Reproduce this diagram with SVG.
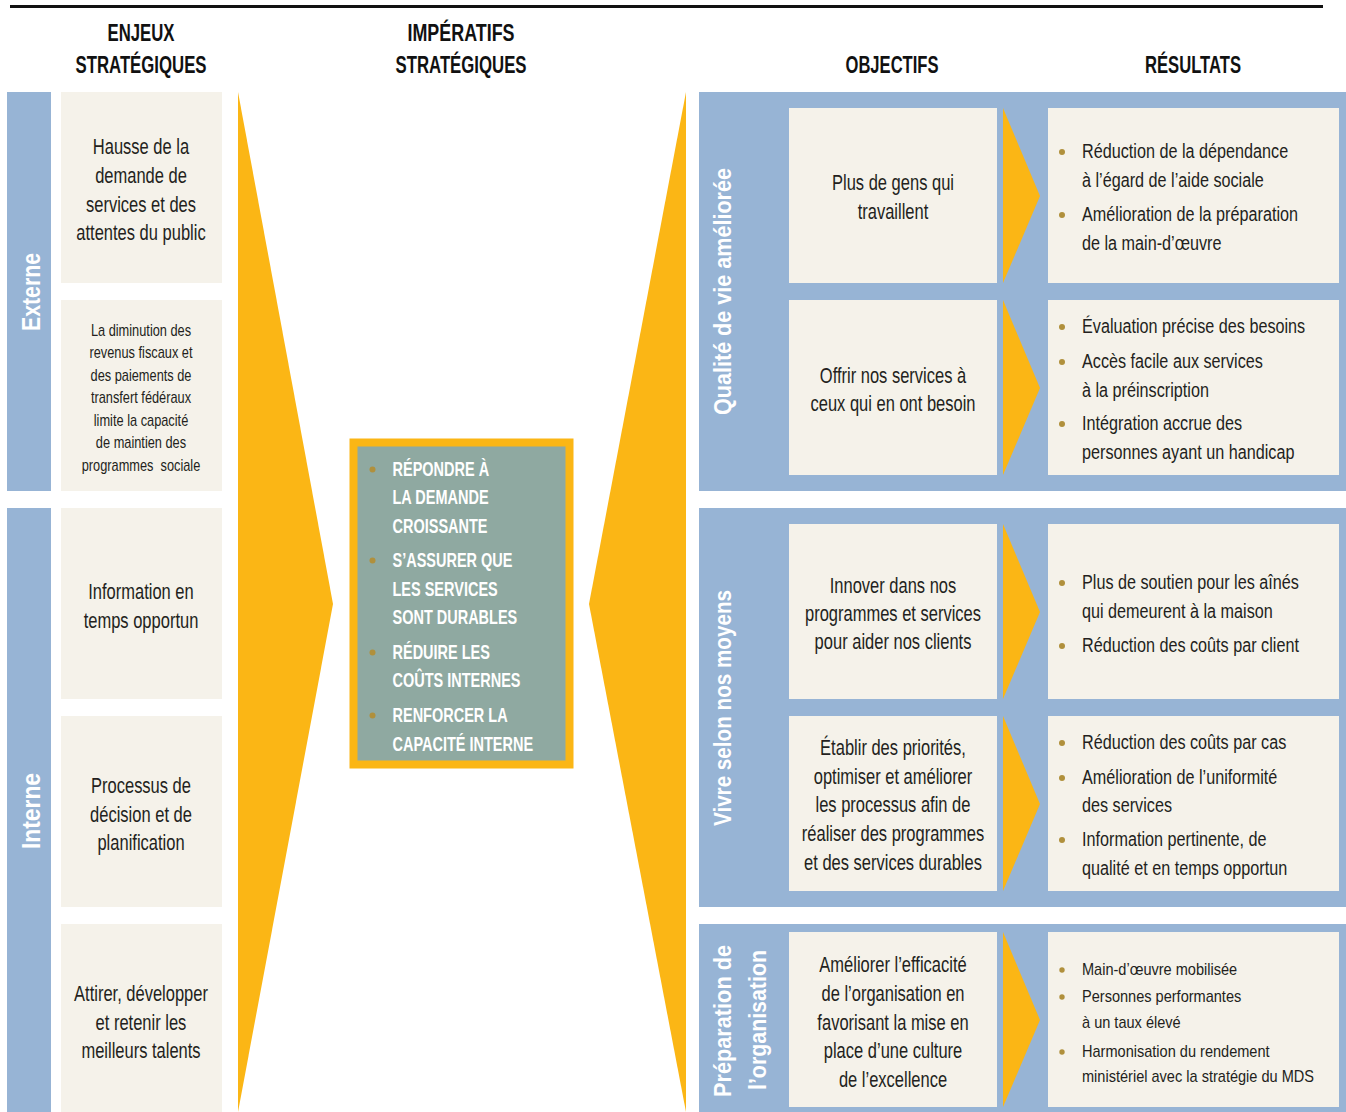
<svg xmlns="http://www.w3.org/2000/svg" width="1346" height="1112" viewBox="0 0 1346 1112">
<defs>
<style>
.bar{fill:#97b4d5}
.box{fill:#f5f2ea}
.arrow{fill:#fbb615}
.t{font-family:"Liberation Sans",Arial,sans-serif;fill:#231f20}
.c{text-anchor:middle}
.s22{font-size:22px}
.s20{font-size:20px}
.s16{font-size:16px}
.hdr{font-family:"Liberation Sans",Arial,sans-serif;font-size:23px;font-weight:bold;fill:#111;text-anchor:middle}
.lbl{font-family:"Liberation Sans",Arial,sans-serif;font-weight:bold;fill:#fff;text-anchor:middle}
.ctr{font-family:"Liberation Sans",Arial,sans-serif;font-size:20px;font-weight:bold;fill:#fff}
.bul{fill:#b0903c}
</style>
</defs>
<rect width="1346" height="1112" fill="#fff"/>
<line x1="10" y1="6.5" x2="1323" y2="6.5" stroke="#111" stroke-width="3"/>

<g id="headers">
<text class="hdr" x="141" y="41" textLength="67" lengthAdjust="spacingAndGlyphs">ENJEUX</text>
<text class="hdr" x="141" y="73" textLength="131" lengthAdjust="spacingAndGlyphs">STRATÉGIQUES</text>
<text class="hdr" x="461" y="41" textLength="107" lengthAdjust="spacingAndGlyphs">IMPÉRATIFS</text>
<text class="hdr" x="461" y="73" textLength="131" lengthAdjust="spacingAndGlyphs">STRATÉGIQUES</text>
<text class="hdr" x="892" y="73" textLength="93" lengthAdjust="spacingAndGlyphs">OBJECTIFS</text>
<text class="hdr" x="1193" y="73" textLength="96" lengthAdjust="spacingAndGlyphs">RÉSULTATS</text>
</g>

<g id="connectors">
<polygon class="arrow" points="238,92 333,604 238,1112"/>
<polygon class="arrow" points="686,92 589,604 686,1112"/>
</g>

<g id="externe">
<rect class="bar" x="7" y="92" width="44" height="399"/>
<text class="lbl" font-size="26" transform="translate(40 292) rotate(-90)" textLength="78" lengthAdjust="spacingAndGlyphs">Externe</text>
</g>
<g id="interne">
<rect class="bar" x="7" y="508" width="44" height="604"/>
<text class="lbl" font-size="26" transform="translate(40 811) rotate(-90)" textLength="76" lengthAdjust="spacingAndGlyphs">Interne</text>
</g>

<g id="enjeu1">
<rect class="box" x="61" y="92" width="161" height="191"/>
<g transform="translate(141 0) scale(0.75 1)"><text class="t c s22">
<tspan x="0" y="154">Hausse de la</tspan><tspan x="0" y="183">demande de</tspan><tspan x="0" y="212">services et des</tspan><tspan x="0" y="240">attentes du public</tspan></text></g>
</g>
<g id="enjeu2">
<rect class="box" x="61" y="300" width="161" height="191"/>
<g transform="translate(141 0) scale(0.8 1)"><text class="t c s16">
<tspan x="0" y="336">La diminution des</tspan><tspan x="0" y="358.5">revenus fiscaux et</tspan><tspan x="0" y="381">des paiements de</tspan><tspan x="0" y="403.5">transfert fédéraux</tspan><tspan x="0" y="426">limite la capacité</tspan><tspan x="0" y="448.5">de maintien des</tspan><tspan x="0" y="471">programmes&#160; sociale</tspan></text></g>
</g>
<g id="enjeu3">
<rect class="box" x="61" y="508" width="161" height="191"/>
<g transform="translate(141 0) scale(0.75 1)"><text class="t c s22">
<tspan x="0" y="599">Information en</tspan><tspan x="0" y="628">temps opportun</tspan></text></g>
</g>
<g id="enjeu4">
<rect class="box" x="61" y="716" width="161" height="191"/>
<g transform="translate(141 0) scale(0.75 1)"><text class="t c s22">
<tspan x="0" y="793">Processus de</tspan><tspan x="0" y="822">décision et de</tspan><tspan x="0" y="850">planification</tspan></text></g>
</g>
<g id="enjeu5">
<rect class="box" x="61" y="924" width="161" height="188"/>
<g transform="translate(141 0) scale(0.75 1)"><text class="t c s22">
<tspan x="0" y="1001">Attirer, développer</tspan><tspan x="0" y="1030">et retenir les</tspan><tspan x="0" y="1058">meilleurs talents</tspan></text></g>
</g>

<g id="imperatifs">
<rect x="353.5" y="442.5" width="216" height="322" fill="#8fa9a1" stroke="#fbb615" stroke-width="8"/>
<circle class="bul" cx="372.5" cy="469.5" r="3"/>
<circle class="bul" cx="372.5" cy="560.5" r="3"/>
<circle class="bul" cx="372.5" cy="652.5" r="3"/>
<circle class="bul" cx="372.5" cy="715.5" r="3"/>
<g transform="translate(392.5 0) scale(0.725 1)"><text class="ctr">
<tspan x="0" y="476">RÉPONDRE À</tspan><tspan x="0" y="504.5">LA DEMANDE</tspan><tspan x="0" y="533">CROISSANTE</tspan><tspan x="0" y="567">S’ASSURER QUE</tspan><tspan x="0" y="596">LES SERVICES</tspan><tspan x="0" y="624.5">SONT DURABLES</tspan><tspan x="0" y="659">RÉDUIRE LES</tspan><tspan x="0" y="687.5">COÛTS INTERNES</tspan><tspan x="0" y="722">RENFORCER LA</tspan><tspan x="0" y="751">CAPACITÉ INTERNE</tspan></text></g>
</g>

<g id="qualite">
<rect class="bar" x="699" y="92" width="647" height="399"/>
<text class="lbl" font-size="24" transform="translate(731 291.5) rotate(-90)" textLength="247" lengthAdjust="spacingAndGlyphs">Qualité de vie améliorée</text>
</g>
<g id="moyens">
<rect class="bar" x="699" y="508" width="647" height="399"/>
<text class="lbl" font-size="24" transform="translate(731 708) rotate(-90)" textLength="236" lengthAdjust="spacingAndGlyphs">Vivre selon nos moyens</text>
</g>
<g id="preparation">
<rect class="bar" x="699" y="924" width="647" height="188"/>
<text class="lbl" font-size="24" transform="translate(731 1021) rotate(-90)" textLength="152" lengthAdjust="spacingAndGlyphs">Préparation de</text>
<text class="lbl" font-size="24" transform="translate(766 1020) rotate(-90)" textLength="140" lengthAdjust="spacingAndGlyphs">l’organisation</text>
</g>

<g id="arrows">
<polygon class="arrow" points="1003,108 1040,196 1003,283"/>
<polygon class="arrow" points="1003,300 1040,388 1003,475"/>
<polygon class="arrow" points="1003,524 1040,612 1003,699"/>
<polygon class="arrow" points="1003,716 1040,804 1003,891"/>
<polygon class="arrow" points="1003,932 1040,1020 1003,1107"/>
</g>

<g id="objectif1">
<rect class="box" x="789" y="108" width="208" height="175"/>
<g transform="translate(893 0) scale(0.75 1)"><text class="t c s22">
<tspan x="0" y="190">Plus de gens qui</tspan><tspan x="0" y="219">travaillent</tspan></text></g>
</g>
<g id="objectif2">
<rect class="box" x="789" y="300" width="208" height="175"/>
<g transform="translate(893 0) scale(0.75 1)"><text class="t c s22">
<tspan x="0" y="383">Offrir nos services à</tspan><tspan x="0" y="411">ceux qui en ont besoin</tspan></text></g>
</g>
<g id="objectif3">
<rect class="box" x="789" y="524" width="208" height="175"/>
<g transform="translate(893 0) scale(0.75 1)"><text class="t c s22">
<tspan x="0" y="593">Innover dans nos</tspan><tspan x="0" y="621">programmes et services</tspan><tspan x="0" y="649.5">pour aider nos clients</tspan></text></g>
</g>
<g id="objectif4">
<rect class="box" x="789" y="716" width="208" height="175"/>
<g transform="translate(893 0) scale(0.75 1)"><text class="t c s22">
<tspan x="0" y="755">Établir des priorités,</tspan><tspan x="0" y="784">optimiser et améliorer</tspan><tspan x="0" y="812.5">les processus afin de</tspan><tspan x="0" y="841">réaliser des programmes</tspan><tspan x="0" y="870">et des services durables</tspan></text></g>
</g>
<g id="objectif5">
<rect class="box" x="789" y="932" width="208" height="175"/>
<g transform="translate(893 0) scale(0.75 1)"><text class="t c s22">
<tspan x="0" y="972">Améliorer l’efficacité</tspan><tspan x="0" y="1001">de l’organisation en</tspan><tspan x="0" y="1030">favorisant la mise en</tspan><tspan x="0" y="1058">place d’une culture</tspan><tspan x="0" y="1087">de l’excellence</tspan></text></g>
</g>

<g id="resultat1">
<rect class="box" x="1048" y="108" width="291" height="175"/>
<circle class="bul" cx="1062" cy="152" r="3"/>
<circle class="bul" cx="1062" cy="215" r="3"/>
<g transform="translate(1082 0) scale(0.81 1)"><text class="t s20">
<tspan x="0" y="158">Réduction de la dépendance</tspan><tspan x="0" y="187">à l’égard de l’aide sociale</tspan><tspan x="0" y="221">Amélioration de la préparation</tspan><tspan x="0" y="250">de la main-d’œuvre</tspan></text></g>
</g>
<g id="resultat2">
<rect class="box" x="1048" y="300" width="291" height="175"/>
<circle class="bul" cx="1062" cy="327" r="3"/>
<circle class="bul" cx="1062" cy="362" r="3"/>
<circle class="bul" cx="1062" cy="424" r="3"/>
<g transform="translate(1082 0) scale(0.81 1)"><text class="t s20">
<tspan x="0" y="333">Évaluation précise des besoins</tspan><tspan x="0" y="368">Accès facile aux services</tspan><tspan x="0" y="397">à la préinscription</tspan><tspan x="0" y="430">Intégration accrue des</tspan><tspan x="0" y="459">personnes ayant un handicap</tspan></text></g>
</g>
<g id="resultat3">
<rect class="box" x="1048" y="524" width="291" height="175"/>
<circle class="bul" cx="1062" cy="583" r="3"/>
<circle class="bul" cx="1062" cy="646" r="3"/>
<g transform="translate(1082 0) scale(0.81 1)"><text class="t s20">
<tspan x="0" y="589">Plus de soutien pour les aînés</tspan><tspan x="0" y="618">qui demeurent à la maison</tspan><tspan x="0" y="652">Réduction des coûts par client</tspan></text></g>
</g>
<g id="resultat4">
<rect class="box" x="1048" y="716" width="291" height="175"/>
<circle class="bul" cx="1062" cy="743" r="3"/>
<circle class="bul" cx="1062" cy="778" r="3"/>
<circle class="bul" cx="1062" cy="840" r="3"/>
<g transform="translate(1082 0) scale(0.81 1)"><text class="t s20">
<tspan x="0" y="749">Réduction des coûts par cas</tspan><tspan x="0" y="784">Amélioration de l’uniformité</tspan><tspan x="0" y="812">des services</tspan><tspan x="0" y="846">Information pertinente, de</tspan><tspan x="0" y="875">qualité et en temps opportun</tspan></text></g>
</g>
<g id="resultat5">
<rect class="box" x="1048" y="932" width="291" height="175"/>
<circle class="bul" cx="1062" cy="970" r="2.7"/>
<circle class="bul" cx="1062" cy="997" r="2.7"/>
<circle class="bul" cx="1062" cy="1052" r="2.7"/>
<g transform="translate(1082 0) scale(0.91 1)"><text class="t s16">
<tspan x="0" y="975">Main-d’œuvre mobilisée</tspan><tspan x="0" y="1002">Personnes performantes</tspan><tspan x="0" y="1028">à un taux élevé</tspan><tspan x="0" y="1057">Harmonisation du rendement</tspan><tspan x="0" y="1082">ministériel avec la stratégie du MDS</tspan></text></g>
</g>
</svg>
